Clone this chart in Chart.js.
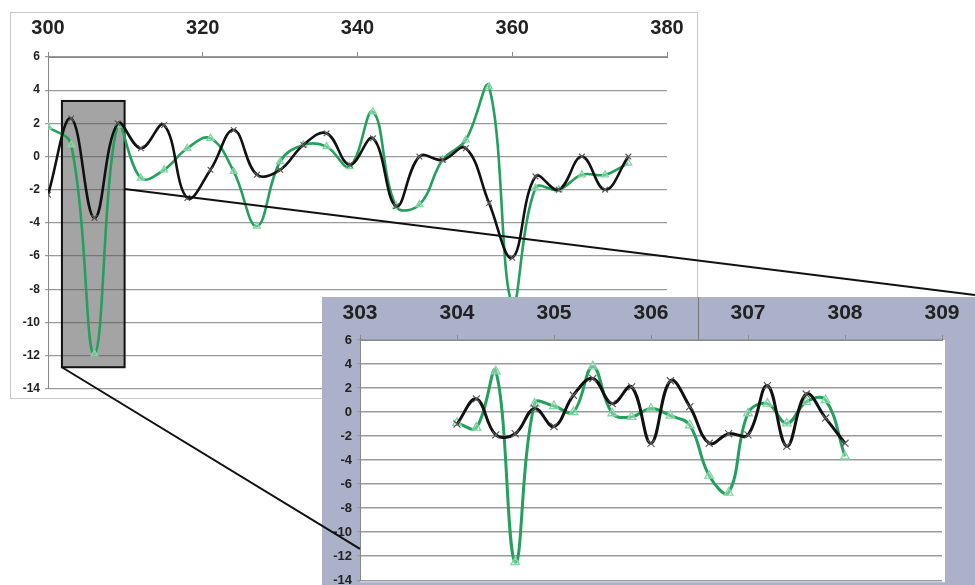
<!DOCTYPE html>
<html>
<head>
<meta charset="utf-8">
<script src="https://cdn.jsdelivr.net/npm/chart.js@4.4.1/dist/chart.umd.min.js"></script>
<style>
  html, body { margin: 0; padding: 0; background: #fff; }
  body { width: 975px; height: 585px; position: relative; overflow: hidden; }
  #frame { position: absolute; left: 10px; top: 12px; width: 686px; height: 385px; border: 1px solid #cacaca; }
  #main { position: absolute; left: 10px; top: 12px; width: 688px; height: 389px; }
  #inset { position: absolute; left: 322px; top: 297px; width: 653px; height: 296px; background: #aab1c8; }
  #overlay { position: absolute; left: 0; top: 0; pointer-events: none; }
</style>
</head>
<body>
<div id="frame"></div>
<div id="main"><canvas id="chart-main"></canvas></div>
<div id="inset"><canvas id="chart-inset"></canvas></div>
<canvas id="overlay" width="975" height="585"></canvas>
<script>
  // ---- data ----------------------------------------------------------------
  var MAIN_X = [300, 303, 306, 309, 312, 315, 318, 321, 324, 327, 330, 333, 336,
                339, 342, 345, 348, 351, 354, 357, 360, 363, 366, 369, 372, 375];
  var MAIN_BLACK = [-2.3, 2.3, -3.7, 2.0, 0.5, 1.9, -2.5, -0.8, 1.6, -1.1, -0.8, 0.7, 1.4,
                    -0.5, 1.1, -3.0, 0.0, -0.2, 0.5, -2.8, -6.1, -1.2, -2.0, 0.0, -2.0, 0.0];
  var MAIN_GREEN = [1.8, 0.7, -11.9, 1.9, -1.3, -0.8, 0.5, 1.1, -0.9, -4.2, -0.3, 0.7, 0.6,
                    -0.6, 2.7, -3.0, -2.9, -0.2, 1.0, 4.2, -8.9, -1.9, -2.0, -1.1, -1.1, -0.4];

  var INSET_X = [304.0, 304.2, 304.4, 304.6, 304.8, 305.0, 305.2, 305.4, 305.6, 305.8, 306.0,
                 306.2, 306.4, 306.6, 306.8, 307.0, 307.2, 307.4, 307.6, 307.8, 308.0];
  var INSET_BLACK = [-1.0, 1.1, -1.9, -1.8, 0.3, -1.2, 1.4, 2.8, 0.7, 2.1, -2.6,
                     2.6, 0.45, -2.6, -1.8, -1.9, 2.2, -2.85, 1.5, -0.5, -2.6];
  var INSET_GREEN = [-0.9, -1.3, 3.4, -12.5, 0.7, 0.5, 0.0, 3.8, -0.1, -0.4, 0.3,
                     -0.3, -1.1, -5.3, -6.7, -0.1, 0.7, -0.95, 0.85, 1.0, -3.7];

  // zoom window marked on the main chart (axis units)
  var BOX = { x0: 301.8, x1: 309.9, y0: -12.7, y1: 3.35 };

  var BLACK = "#111111", GREEN = "#23a05b", GRID = "#9a9a9a", AXIS = "#888888", TEXT = "#222222";
  var FONT = "'Liberation Sans', Arial, sans-serif";

  function pts(xs, ys) { return xs.map(function (x, i) { return { x: x, y: ys[i] }; }); }

  function series(xs, black, green, width, radius) {
    return [{
      label: "black", data: pts(xs, black),
      borderColor: BLACK, borderWidth: width, tension: 0.4,
      pointStyle: "crossRot", pointRadius: radius, pointBorderColor: "#5a5a5a", pointBorderWidth: 1.2,
      pointBackgroundColor: "transparent"
    }, {
      label: "green", data: pts(xs, green),
      borderColor: GREEN, borderWidth: width, tension: 0.4,
      pointStyle: "triangle", pointRadius: radius, pointBorderColor: "#7fd6a2", pointBorderWidth: 1.3,
      pointBackgroundColor: "rgba(255,255,255,0.35)"
    }];
  }

  var zoomBox = {
    id: "zoomBox",
    beforeDatasetsDraw: function (chart) {
      var x = chart.scales.x, y = chart.scales.y, ctx = chart.ctx;
      var l = x.getPixelForValue(BOX.x0), r = x.getPixelForValue(BOX.x1);
      var t = y.getPixelForValue(BOX.y1), b = y.getPixelForValue(BOX.y0);
      ctx.save();
      ctx.fillStyle = "rgba(90,90,90,0.55)";
      ctx.fillRect(l, t, r - l, b - t);
      ctx.strokeStyle = "#111";
      ctx.lineWidth = 2;
      ctx.strokeRect(l, t, r - l, b - t);
      ctx.restore();
    }
  };

  var whitePlot = {
    id: "whitePlot",
    beforeDraw: function (chart) {
      var a = chart.chartArea, ctx = chart.ctx;
      ctx.save();
      ctx.fillStyle = "#fff";
      ctx.fillRect(a.left, a.top, a.right - a.left + 3, a.bottom - a.top + 2);
      ctx.restore();
    }
  };

  function options(o) {
    return {
      responsive: true, maintainAspectRatio: false, animation: false,
      layout: { padding: o.pad },
      plugins: { legend: { display: false }, tooltip: { enabled: false } },
      scales: {
        x: {
          type: "linear", position: "top", min: o.xmin, max: o.xmax,
          afterFit: function (s) { s.height = o.xh; },
          border: { display: true, color: AXIS, width: 1 },
          grid: { drawOnChartArea: false, tickLength: 5, color: AXIS },
          ticks: { stepSize: o.xstep, padding: o.xpad, color: TEXT,
                   font: { family: FONT, size: o.xfont, weight: "bold" } }
        },
        y: {
          min: -14, max: 6,
          afterFit: function (s) { s.width = o.yw; },
          border: { display: true, color: AXIS, width: 1 },
          grid: { color: GRID, lineWidth: o.gw, tickLength: 3 },
          ticks: { stepSize: 2, padding: 5, color: TEXT,
                   font: { family: FONT, size: o.yfont, weight: "bold" } }
        }
      }
    };
  }

  var mainChart = new Chart(document.getElementById("chart-main"), {
    type: "line",
    data: { datasets: series(MAIN_X, MAIN_BLACK, MAIN_GREEN, 2.6, 4) },
    options: options({ pad: { left: 0, right: 31, top: 0, bottom: 9 }, xmin: 300, xmax: 380, xstep: 20,
                       xh: 45, yw: 38, xpad: 12, xfont: 20, yfont: 12, gw: 1.2 }),
    plugins: [zoomBox]
  });

  var insetChart = new Chart(document.getElementById("chart-inset"), {
    type: "line",
    data: { datasets: series(INSET_X, INSET_BLACK, INSET_GREEN, 3, 5) },
    options: options({ pad: { left: 0, right: 33, top: 0, bottom: 2 }, xmin: 303, xmax: 309, xstep: 1,
                       xh: 43, yw: 38, xpad: 9, xfont: 21, yfont: 13, gw: 1.4 }),
    plugins: [whitePlot]
  });

  // ---- connector lines between the marked box and the inset ----------------
  (function () {
    var ctx = document.getElementById("overlay").getContext("2d");
    var mx = mainChart.scales.x, my = mainChart.scales.y;
    var iy = insetChart.scales.y, ia = insetChart.chartArea;
    ctx.strokeStyle = "#111";
    ctx.lineWidth = 2;
    ctx.beginPath();
    ctx.moveTo(mx.getPixelForValue(BOX.x0) + 10, my.getPixelForValue(BOX.y0) + 12);
    ctx.lineTo(ia.left + 322, iy.getPixelForValue(-11.4) + 297);
    ctx.moveTo(mx.getPixelForValue(BOX.x1) + 10, my.getPixelForValue(-1.95) + 12);
    ctx.lineTo(975, 295);
    ctx.stroke();
    ctx.strokeStyle = "#777";
    ctx.lineWidth = 1;
    ctx.beginPath();
    ctx.moveTo(698.5, 297);
    ctx.lineTo(698.5, ia.top + 297);
    ctx.stroke();
  })();
</script>
</body>
</html>
